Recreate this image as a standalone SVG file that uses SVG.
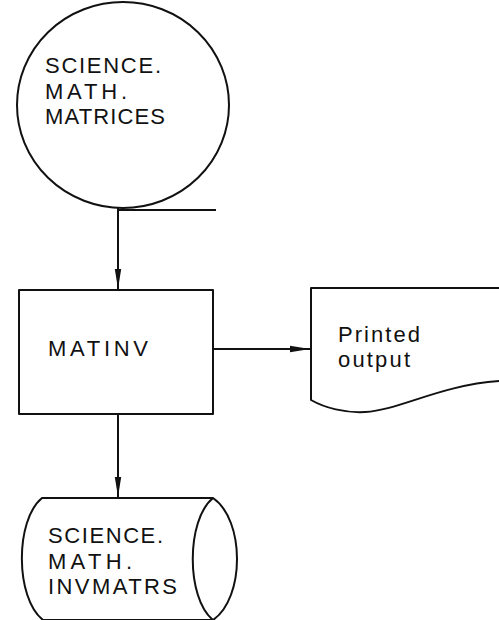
<svg xmlns="http://www.w3.org/2000/svg" width="499" height="620" viewBox="0 0 499 620">
<defs>
<style>
.shape{fill:#fff;stroke:#111;stroke-width:2;stroke-linejoin:round}
.line{fill:none;stroke:#111;stroke-width:2}
.t{font-family:"Liberation Sans",Arial,sans-serif;font-size:22px;fill:#111}
</style>
<marker id="ah" viewBox="0 0 20 8" refX="20" refY="4" markerWidth="20" markerHeight="8" markerUnits="userSpaceOnUse" orient="auto">
<path d="M0,0.8 L20,4 L0,7.2 Z" fill="#111"/>
</marker>
</defs>
<rect width="499" height="620" fill="#fff"/>
<g id="node-matrices">
<ellipse class="shape" cx="123" cy="105" rx="106" ry="103"/>
<text class="t" x="45" y="73" textLength="116" lengthAdjust="spacing">SCIENCE.</text>
<text class="t" x="45" y="98.5" textLength="82" lengthAdjust="spacing">MATH.</text>
<text class="t" x="45" y="124" textLength="120" lengthAdjust="spacing">MATRICES</text>
</g>
<g id="node-matinv">
<rect class="shape" x="19" y="290" width="194" height="124"/>
<text class="t" x="48" y="356" textLength="100" lengthAdjust="spacing">MATINV</text>
</g>
<g id="node-printed">
<path class="shape" d="M311,288 L500,288 L500,381 C440,385 400,410 365,412 C345,413 325,408 311,400 Z"/>
<text class="t" x="338" y="342" textLength="82" lengthAdjust="spacing">Printed</text>
<text class="t" x="338" y="367" textLength="72" lengthAdjust="spacing">output</text>
</g>
<g id="node-invmatrs">
<path class="shape" d="M42,498 L213,498 C245,520 245,598 213,620 L43,620 C15,598 15,520 42,498 Z"/>
<path class="line" d="M213,498 C186,520 186,598 213,620"/>
<text class="t" x="48" y="543" textLength="115" lengthAdjust="spacing">SCIENCE.</text>
<text class="t" x="48" y="568.5" textLength="84" lengthAdjust="spacing">MATH.</text>
<text class="t" x="48" y="594" textLength="129" lengthAdjust="spacing">INVMATRS</text>
</g>
<g id="connectors">
<path class="line" d="M118,210 L216,210"/>
<path class="line" d="M118,208 L118,289" marker-end="url(#ah)"/>
<path class="line" d="M213,349 L310,349" marker-end="url(#ah)"/>
<path class="line" d="M118,414 L118,497" marker-end="url(#ah)"/>
</g>
</svg>
